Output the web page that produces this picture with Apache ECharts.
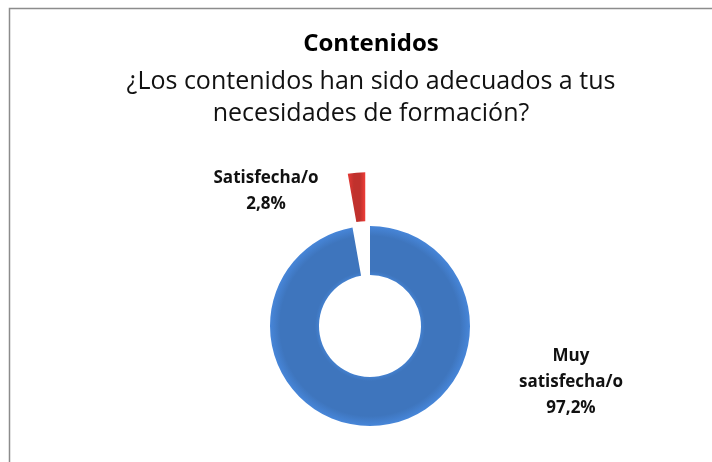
<!DOCTYPE html>
<html>
<head>
<meta charset="utf-8">
<script src="https://cdn.jsdelivr.net/npm/echarts@6/dist/echarts.min.js"></script>
<style>
  html, body { margin: 0; padding: 0; background: #fff; }
  #chart { width: 712px; height: 462px; }
</style>
</head>
<body>
<div id="chart"></div>
<script>
const categories = ['Muy satisfecha/o', 'Satisfecha/o']
const values = [97.2, 2.8]
const sliceColors = ['#3e75bd', '#c0312d']
const explodeIndex = 1

const FONT = 'Open Sans'
const CENTER = [370, 326]
const RADIUS = [51, 100]
const START = 90
const EXPLODE = 54

const myChart = echarts.init(document.getElementById('chart'))

const fmtPct = (v) => v.toFixed(1).replace('.', ',') + '%'

// middle angle of the exploded slice (clockwise from START)
const total = values.reduce((a, b) => a + b, 0)
const before = values.slice(0, explodeIndex).reduce((a, b) => a + b, 0)
const midAngle =
  ((START - ((before + values[explodeIndex] / 2) / total) * 360) * Math.PI) / 180
const explodedCenter = [
  CENTER[0] + EXPLODE * Math.cos(midAngle),
  CENTER[1] - EXPLODE * Math.sin(midAngle)
]

// ring shading for the big slice
const ringGradient = (c) =>
  new echarts.graphic.RadialGradient(0.5, 0.5, 0.5, [
    { offset: 0.5, color: echarts.color.lift(c, -0.12) },
    { offset: 0.55, color: c },
    { offset: 0.9, color: c },
    { offset: 1, color: echarts.color.lift(c, -0.15) }
  ])

// small wedge: darker sides, plain middle
const wedgeGradient = (c) =>
  new echarts.graphic.LinearGradient(0, 0, 1, 0, [
    { offset: 0, color: echarts.color.lift(c, -0.2) },
    { offset: 0.35, color: c },
    { offset: 0.7, color: c },
    { offset: 1, color: echarts.color.lift(c, -0.25) }
  ])

const labelPos = [
  [571, 382],
  [266, 191]
]

myChart.setOption({
  animation: false,
  title: {
    text: 'Contenidos',
    subtext: '¿Los contenidos han sido adecuados a tus\nnecesidades de formación?',
    left: 366,
    top: 27,
    textAlign: 'center',
    itemGap: 10,
    textStyle: {
      fontFamily: FONT,
      fontSize: 24,
      fontWeight: 'bold',
      color: '#000'
    },
    subtextStyle: {
      fontFamily: FONT,
      fontSize: 25,
      lineHeight: 32,
      color: '#111'
    }
  },
  graphic: [
    {
      type: 'rect',
      shape: { x: 9.5, y: 8.5, width: 740, height: 480 },
      style: { fill: 'none', stroke: '#8c8c8c', lineWidth: 1.5 },
      silent: true
    }
  ],
  series: [
    {
      type: 'pie',
      center: CENTER,
      radius: RADIUS,
      startAngle: START,
      clockwise: true,
      silent: true,
      avoidLabelOverlap: false,
      labelLine: { show: false },
      label: {
        show: true,
        fontFamily: FONT,
        fontSize: 17,
        fontWeight: 'bold',
        lineHeight: 26,
        color: '#111',
        align: 'center',
        formatter: (p) => p.name.replace('Muy ', 'Muy\n') + '\n' + fmtPct(p.value)
      },
      labelLayout: (params) => ({
        x: labelPos[params.dataIndex][0],
        y: labelPos[params.dataIndex][1],
        align: 'center',
        verticalAlign: 'middle'
      }),
      data: categories.map((name, i) => ({
        name,
        value: values[i],
        itemStyle: {
          color: i === explodeIndex ? 'rgba(0,0,0,0)' : ringGradient(sliceColors[i])
        }
      }))
    },
    {
      // exploded slice, pulled out along its middle angle
      type: 'pie',
      center: explodedCenter,
      radius: RADIUS,
      startAngle: START,
      clockwise: true,
      silent: true,
      label: { show: false },
      labelLine: { show: false },
      data: categories.map((name, i) => ({
        name,
        value: values[i],
        itemStyle: {
          color: i === explodeIndex ? wedgeGradient(sliceColors[i]) : 'rgba(0,0,0,0)'
        }
      }))
    }
  ]
})
</script>
</body>
</html>
